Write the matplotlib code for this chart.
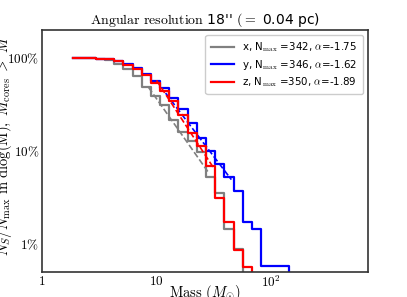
import numpy as np
import matplotlib
matplotlib.use("Agg")
import matplotlib.pyplot as plt

plt.rcParams['mathtext.fontset'] = 'cm'
plt.rcParams['font.family'] = 'DejaVu Sans'

# bin centres (solar masses)
mass = [1.86, 2.24, 2.69, 3.24, 3.89, 4.68, 5.62, 6.76, 8.13, 9.77, 11.7, 14.1,
        17.0, 20.4, 24.5, 29.5, 35.5, 42.7, 51.3, 61.7, 74.1, 89.1, 107, 129, 155]

# cumulative number of cores above M (per projection)
n_x = [342, 341, 339, 333, 322, 295, 262, 218, 168, 135, 106, 74,
       55, 44, 33, 18, 12, 5, 3, 1, 1, 1, 1, 1, 1]
n_y = [346, 345, 344, 341, 336, 324, 296, 268, 234, 197, 163, 128,
       97, 69, 48, 35, 25, 18, 13, 6, 5, 2, 2, 2, 1]
n_z = [350, 349, 348, 345, 339, 325, 294, 266, 229, 189, 154, 120,
       85, 55, 40, 24, 11, 6, 3, 2, 1, 1, 1, 1, 1]

nmax = [342, 346, 350]
alpha = [-1.75, -1.62, -1.89]
names = ['x', 'y', 'z']
colors = ['gray', 'blue', 'red']

# power-law fit ranges and anchor points (M, fraction)
fit_lo = [8.5, 12.0, 10.0]
fit_hi = [28.0, 45.0, 32.0]
fit_anchor_m = [11.3, 28.9, 25.1]
fit_anchor_f = [0.295, 0.101, 0.101]

fig = plt.figure(figsize=(4.07, 2.97), dpi=100)
ax = fig.add_axes([0.103, 0.084, 0.801, 0.815])

for n, N, a, nm, c, lo, hi, am, af in zip([n_x, n_y, n_z], nmax, alpha, names, colors,
                                          fit_lo, fit_hi, fit_anchor_m, fit_anchor_f):
    frac = np.array(n, dtype=float) / N
    ax.step(mass, frac, where='mid', color=c, lw=1.6,
            label=nm + r', N$_{\rm max}$ =' + str(N) + r', $\alpha$=' + str(a))
    mm = np.array([lo, hi])
    ax.plot(mm, af * (mm / am) ** a, color=c, lw=1.2, ls='--')

ax.set_xscale('log')
ax.set_yscale('log')
ax.set_xlim(1, 700)
ax.set_ylim(0.005, 2.0)

ax.set_xticks([1, 10, 100])
ax.set_xticklabels([r'$1$', r'$10$', r'$10^2$'])
ax.set_yticks([0.01, 0.1, 1])
ax.set_yticklabels([r'$1\%$', r'$10\%$', r'$100\%$'])
ax.minorticks_off()
ax.tick_params(length=0, labelsize=9.5, pad=2)

for s in ax.spines.values():
    s.set_color('#333333')
    s.set_linewidth(1.2)

ax.set_title(r"$\mathrm{Angular\ resolution}$ 18'' $(=$ 0.04 pc)", fontsize=10, pad=4)
ax.set_xlabel(r'$\mathrm{Mass}\ (M_{\odot})$', fontsize=10.5)
ax.xaxis.set_label_coords(0.5, -0.045)
ax.set_ylabel(r'$N_S/N_{\rm max}\ \mathrm{in\ dlog(M)},\ M_{\rm cores}\ >\ M$',
              fontsize=10.5)
ax.yaxis.set_label_coords(-0.085, 0.52)

ax.legend(loc='upper right', fontsize=7.4, handlelength=2.3, handletextpad=0.8,
          framealpha=1, borderpad=0.5, labelspacing=0.35)

fig.savefig('out.png', dpi=100)
